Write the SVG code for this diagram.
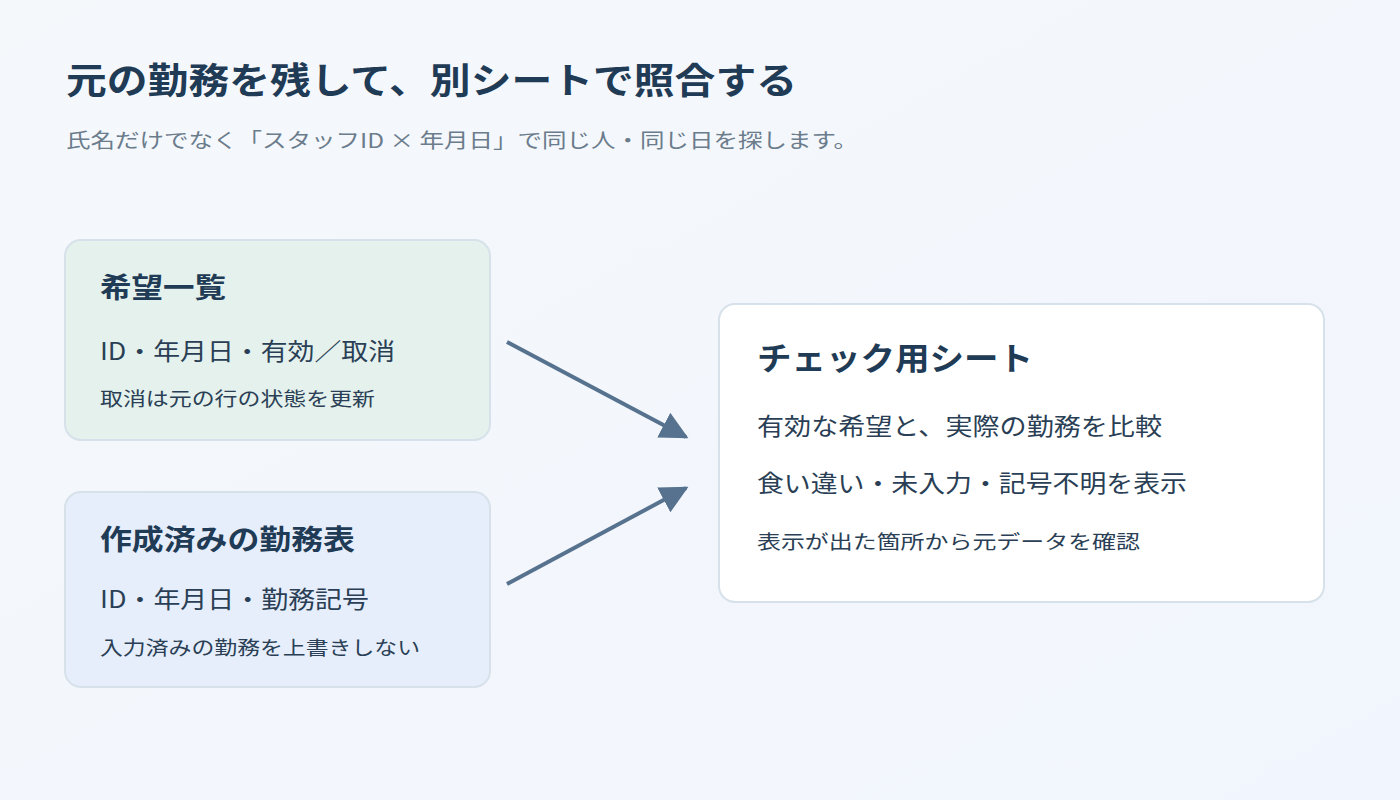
<svg xmlns="http://www.w3.org/2000/svg" width="1400" height="800" viewBox="0 0 1400 800">
<defs>
<linearGradient id="bg" x1="0" y1="0" x2="1" y2="1"><stop offset="0" stop-color="#f5f8fb"/><stop offset="1" stop-color="#f1f5fd"/></linearGradient>
<marker id="ah" viewBox="0 0 10 10" refX="9" refY="5" markerWidth="7" markerHeight="7" orient="auto" markerUnits="strokeWidth"><path d="M0,0 L10,5 L0,10 Z" fill="#56728e"/></marker>
<style>
text{font-family:"Noto Sans CJK JP","Noto Sans",sans-serif;fill:#1f3b55}
.t{font-weight:700}
.sub{fill:#6b7c8c;font-size:20px}
.b{font-size:24px;fill:#2a3f55}
.s{font-size:19px;fill:#2a3f55}
.box{stroke:#d6e1ea;stroke-width:2}
</style>
</defs>
<rect width="1400" height="800" fill="url(#bg)"/>
<text x="66" y="94" class="t" font-size="36" textLength="731" lengthAdjust="spacingAndGlyphs">元の勤務を残して、別シートで照合する</text>
<text x="66" y="148" class="sub" textLength="792" lengthAdjust="spacingAndGlyphs">氏名だけでなく「スタッフID × 年月日」で同じ人・同じ日を探します。</text>
<g id="connectors" stroke="#56728e" stroke-width="4" fill="none">
<line x1="507" y1="342" x2="686" y2="437" marker-end="url(#ah)"/>
<line x1="507" y1="584" x2="686" y2="488" marker-end="url(#ah)"/>
</g>
<g id="n1">
<rect x="65" y="240" width="425" height="200" rx="16" fill="#e5f1ed" class="box"/>
<text x="100" y="298" class="t" font-size="28" textLength="126" lengthAdjust="spacingAndGlyphs">希望一覧</text>
<text x="100" y="360" class="b" textLength="295" lengthAdjust="spacingAndGlyphs">ID・年月日・有効／取消</text>
<text x="100" y="406" class="s" textLength="275" lengthAdjust="spacingAndGlyphs">取消は元の行の状態を更新</text>
</g>
<g id="n2">
<rect x="65" y="492" width="425" height="195" rx="16" fill="#e6eefb" class="box"/>
<text x="100" y="550" class="t" font-size="28" textLength="255" lengthAdjust="spacingAndGlyphs">作成済みの勤務表</text>
<text x="100" y="608" class="b" textLength="269" lengthAdjust="spacingAndGlyphs">ID・年月日・勤務記号</text>
<text x="100" y="655" class="s" textLength="320" lengthAdjust="spacingAndGlyphs">入力済みの勤務を上書きしない</text>
</g>
<g id="n3">
<rect x="719" y="304" width="605" height="298" rx="16" fill="#ffffff" class="box"/>
<text x="757" y="370" class="t" font-size="32" textLength="276" lengthAdjust="spacingAndGlyphs">チェック用シート</text>
<text x="757" y="435" class="b" textLength="405" lengthAdjust="spacingAndGlyphs">有効な希望と、実際の勤務を比較</text>
<text x="757" y="492" class="b" textLength="430" lengthAdjust="spacingAndGlyphs">食い違い・未入力・記号不明を表示</text>
<text x="757" y="549" class="s" textLength="383" lengthAdjust="spacingAndGlyphs">表示が出た箇所から元データを確認</text>
</g>
</svg>
